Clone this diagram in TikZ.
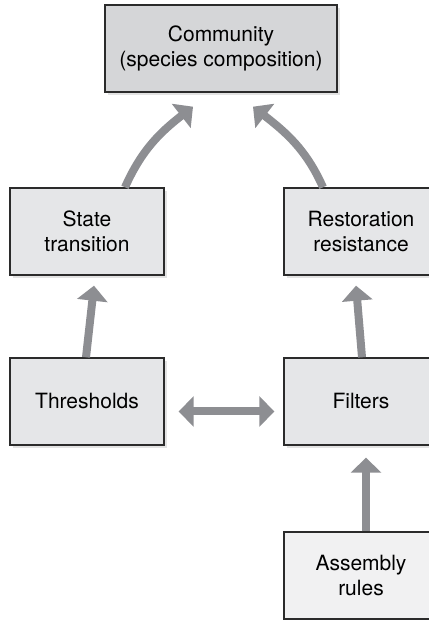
\documentclass[tikz,border=0pt]{standalone}
\usepackage{fontspec}
\setmainfont{TeX Gyre Heros}
\usepackage{tikz}
\usetikzlibrary{arrows.meta, shadows, calc}
\definecolor{boxdark}{HTML}{D5D6D8}
\definecolor{boxmid}{HTML}{E5E6E8}
\definecolor{boxlight}{HTML}{F1F1F2}
\definecolor{arrowgray}{HTML}{8D8E92}
\definecolor{edgegray}{HTML}{2B2B2B}
\tikzstyle{box} = [rectangle, minimum width=77pt, minimum height=43.5pt, text centered, align=center, draw=edgegray, line width=0.7pt, fill=boxmid, font=\fontsize{10.5}{12.5}\selectfont, drop shadow={shadow xshift=1.5pt, shadow yshift=-1.5pt, opacity=0.22}]
\tikzstyle{topbox} = [box, minimum width=116pt, fill=boxdark]
\tikzstyle{arrow} = [draw=arrowgray, line width=4pt, -{Triangle[length=7.5pt, width=15pt]}, arrowgray]
\tikzstyle{twoway} = [draw=arrowgray, line width=4pt, {Triangle[length=7.5pt, width=15pt]}-{Triangle[length=7.5pt, width=15pt]}, arrowgray]

\begin{document}
\begin{tikzpicture}[x=0.5pt, y=0.5pt]
			\useasboundingbox (0,0) rectangle (428,620);
			\node (community) [topbox] at (221,571.5) {Community\\(species composition)};
			\node (state) [box] at (87,388.5) {State\\transition};
			\node (restoration) [box] at (361,388.5) {Restoration\\resistance};
			\node (thresholds) [box] at (87,218.5) {Thresholds};
			\node (filters) [box] at (361,218.5) {Filters};
			\node (assembly) [box, fill=boxlight] at (361,44.5) {Assembly\\rules};
			
			\draw [arrow] ($(state.north)+(38,0)$) to[out=66, in=218] ($(community.south)+(-28,-14)$);
			\draw [arrow] ($(restoration.north)+(-38,0)$) to[out=114, in=-38] ($(community.south)+(32,-14)$);
			\draw [arrow] ($(thresholds.north)+(-1,0)$) -- ($(state.south)+(7,-10)$);
			\draw [arrow] ($(filters.north)+(1,0)$) -- ($(restoration.south)+(-5,-10)$);
			\draw [arrow] ($(assembly.north)+(5,0)$) -- ($(filters.south)+(5,-12)$);
			\draw [twoway] ($(thresholds.east)+(14,-10)$) -- ($(filters.west)+(-9,-10)$);
		\end{tikzpicture}
\end{document}
